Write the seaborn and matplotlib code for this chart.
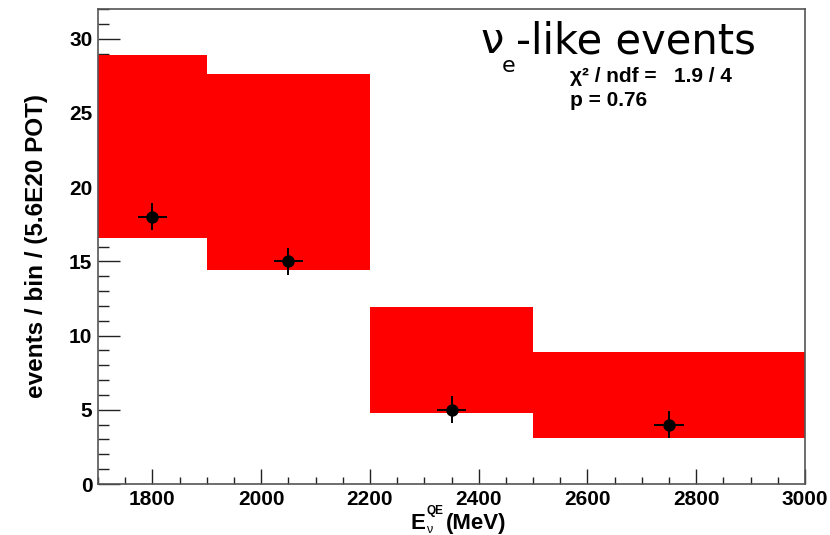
import numpy as np
import pandas as pd
import matplotlib
matplotlib.use('Agg')
import matplotlib.pyplot as plt
from matplotlib.ticker import MultipleLocator
import seaborn as sns

#------------------------------------------------------------------------------
# DATA
#------------------------------------------------------------------------------

# energy bins (MeV)
bin_lo = [1700, 1900, 2200, 2500]
bin_hi = [1900, 2200, 2500, 3000]
# red band: predicted range per bin
band_lo = [16.6, 14.4, 4.8, 3.1]
band_hi = [28.9, 27.6, 11.9, 8.9]

# observed points
pt_x = [1800, 2050, 2350, 2750]
pt_y = [18, 15, 5, 4]
pt_xerr = [27, 27, 27, 27]
pt_yerr = [0.9, 0.9, 0.9, 0.9]

chi2_text = '\u03c7\u00b2 / ndf =   1.9 / 4'
pval_text = 'p = 0.76'

bands = pd.DataFrame({'lo': bin_lo, 'hi': bin_hi, 'blo': band_lo, 'bhi': band_hi})
pts = pd.DataFrame({'x': pt_x, 'y': pt_y})

#------------------------------------------------------------------------------
# PLOTTING
#------------------------------------------------------------------------------

sns.set_theme(style='ticks')
plt.rcParams['font.family'] = ['Liberation Sans', 'DejaVu Sans']
plt.rcParams['text.color'] = 'black'
plt.rcParams['axes.labelcolor'] = 'black'
plt.rcParams['xtick.color'] = '#222222'
plt.rcParams['ytick.color'] = '#222222'
plt.rcParams['xtick.labelcolor'] = 'black'
plt.rcParams['ytick.labelcolor'] = 'black'

W, H = 830, 535
fig = plt.figure(figsize=(W / 100, H / 100), dpi=100)
ax = fig.add_axes([98 / W, 51 / H, 707 / W, 475 / H])

# red prediction bands
ax.bar(bands.lo, bands.bhi - bands.blo, bottom=bands.blo,
       width=bands.hi - bands.lo, align='edge', color='#ff0000',
       edgecolor='none', linewidth=0, zorder=1)

# data points with error bars
ax.errorbar(pts.x, pts.y, xerr=pt_xerr, yerr=pt_yerr, fmt='none',
            ecolor='black', elinewidth=1.4, capsize=0, zorder=2)
sns.scatterplot(data=pts, x='x', y='y', ax=ax, color='black', s=80,
                edgecolor='black', linewidth=0, zorder=3, legend=False)

ax.set_xlim(1700, 3000)
ax.set_ylim(0, 32)

ax.xaxis.set_major_locator(MultipleLocator(200))
ax.xaxis.set_minor_locator(MultipleLocator(50))
ax.yaxis.set_major_locator(MultipleLocator(5))
ax.yaxis.set_minor_locator(MultipleLocator(1))

ax.tick_params(axis='both', which='both', direction='in', width=1,
               bottom=True, left=True, top=False, right=False)
ax.tick_params(axis='both', which='major', labelsize=15)
ax.tick_params(axis='y', which='major', length=16, pad=4)
ax.tick_params(axis='y', which='minor', length=8)
ax.tick_params(axis='x', which='major', length=11, pad=4)
ax.tick_params(axis='x', which='minor', length=5)
for lab in ax.get_xticklabels() + ax.get_yticklabels():
    lab.set_fontweight('bold')

for sp in ax.spines.values():
    sp.set_visible(True)
    sp.set_color('#555555')
    sp.set_linewidth(1.2)

ax.set_xlabel('')
ax.set_ylabel('events / bin / (5.6E20 POT)', fontsize=17.5, fontweight='bold', labelpad=15)

# x label: E with stacked QE / nu, built from pieces
def px(x, y):
    return x / W, (H - y) / H

fig.text(*px(410, 529), 'E', fontsize=16, fontweight='bold', va='baseline', ha='left')
fig.text(*px(426, 514), 'QE', fontsize=8.5, fontweight='bold', va='baseline', ha='left')
fig.text(*px(426, 533), '\u03bd', fontsize=9, fontweight='normal', va='baseline', ha='left')
fig.text(*px(446, 529), '(MeV)', fontsize=16, fontweight='bold', va='baseline', ha='left')

# title and fit summary
ax.text(0.5415, 0.907, '\u03bd', transform=ax.transAxes, fontsize=30,
        family='DejaVu Sans', fontweight='normal', va='baseline', ha='left')
ax.text(0.571, 0.867, 'e', transform=ax.transAxes, fontsize=16,
        family='DejaVu Sans', fontweight='normal', va='baseline', ha='left')
ax.text(0.591, 0.907, '-like events', transform=ax.transAxes, fontsize=30,
        family='DejaVu Sans', fontweight='normal', va='baseline', ha='left')
ax.text(0.668, 0.846, chi2_text, transform=ax.transAxes, fontsize=15,
        fontweight='bold', va='baseline', ha='left')
ax.text(0.668, 0.796, pval_text, transform=ax.transAxes, fontsize=15,
        fontweight='bold', va='baseline', ha='left')

fig.savefig('out.png', dpi=100)
